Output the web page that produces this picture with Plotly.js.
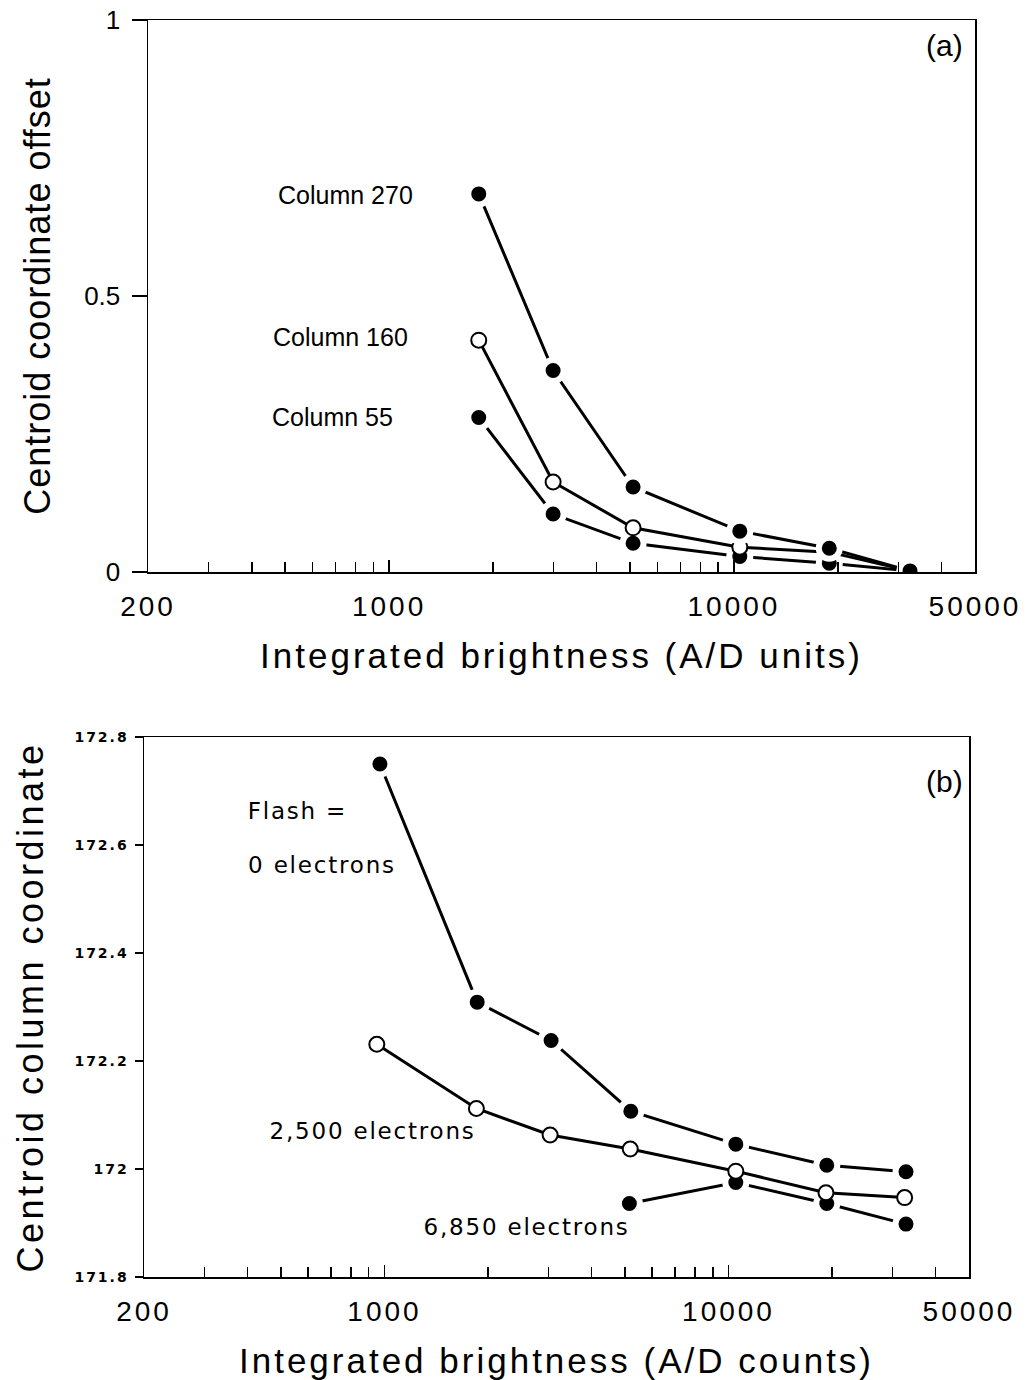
<!DOCTYPE html>
<html>
<head>
<meta charset="utf-8">
<script src="https://cdn.plot.ly/plotly-3.0.1.min.js"></script>
<style>
html,body{margin:0;padding:0;background:#fff;}
.xtick text, .x2tick text {letter-spacing: 3px;}
.y2tick text {letter-spacing: 2px;}
.xtitle, .x2title {letter-spacing: 3px;}
.ytitle {letter-spacing: 1px;}
.y2title {letter-spacing: 3.5px;}
.annotation[data-index="4"] text, .annotation[data-index="5"] text,
.annotation[data-index="6"] text, .annotation[data-index="7"] text {letter-spacing: 1.8px;}
</style>
</head>
<body>
<div id="chart" style="width:1027px;height:1380px;"></div>
<script>
// Panel (a): centroid coordinate offset vs integrated brightness
const brightA = [1820, 2990, 5100, 10400, 18900, 32400];
const col270 = [0.685, 0.365, 0.154, 0.074, 0.043, 0.002];
const col160 = [0.420, 0.163, 0.080, 0.045, 0.036, 0.002];
const col55  = [0.280, 0.105, 0.052, 0.028, 0.016, 0.002];

// Panel (b): centroid column coordinate vs integrated brightness
const brightB0 = [970, 1860, 3050, 5200, 10500, 19300, 32800];
const flash0    = [172.750, 172.309, 172.238, 172.107, 172.046, 172.007, 171.995];
const brightB1 = [950, 1850, 3030, 5180, 10500, 19200, 32500];
const flash2500 = [172.231, 172.112, 172.063, 172.037, 171.996, 171.956, 171.947];
const brightB2 = [5150, 10500, 19300, 32800];
const flash6850 = [171.936, 171.975, 171.936, 171.898];

const xTickVals = [200, 1000, 10000, 50000];
const xTickText = ['200', '1000', '10000', '50000'];
const xMinor = [300,400,500,600,700,800,900,2000,3000,4000,5000,6000,7000,8000,9000,20000,30000,40000];
const yTicksA = [0, 0.5, 1];
const yTickTextA = ['0', '0.5', '1'];
const yTicksB = [171.8, 172, 172.2, 172.4, 172.6, 172.8];
const yTickTextB = ['171.8', '172', '172.2', '172.4', '172.6', '172.8'];

const filled = {symbol: 'circle', size: 21, color: '#000', line: {color: '#fff', width: 6}};
const open = {symbol: 'circle', size: 15, color: '#fff', line: {color: '#000', width: 2}};
const ln = {color: '#000', width: 3};

const traces = [
  {x: brightA, y: col55, xaxis: 'x', yaxis: 'y', mode: 'lines+markers', line: ln, marker: filled},
  {x: brightA, y: col160, xaxis: 'x', yaxis: 'y', mode: 'lines+markers', line: ln, marker: open},
  {x: brightA, y: col270, xaxis: 'x', yaxis: 'y', mode: 'lines+markers', line: ln, marker: filled},
  {x: brightB2, y: flash6850, xaxis: 'x2', yaxis: 'y2', mode: 'lines+markers', line: ln, marker: filled},
  {x: brightB0, y: flash0, xaxis: 'x2', yaxis: 'y2', mode: 'lines+markers', line: ln, marker: filled},
  {x: brightB1, y: flash2500, xaxis: 'x2', yaxis: 'y2', mode: 'lines+markers', line: ln, marker: open}
];

const W = 1027, H = 1380;
const LIB = 'Liberation Sans, Arial, sans-serif';
const DJV = 'DejaVu Sans, sans-serif';
const axisFont = {family: LIB, size: 28, color: '#000'};

function xAxis(domain, anchor, text, standoff) {
  return {
    type: 'log', range: [Math.log10(200), Math.log10(50000)], domain: domain, anchor: anchor,
    tickmode: 'array', tickvals: xTickVals, ticktext: xTickText,
    ticks: 'inside', ticklen: 12, tickwidth: 1.5, tickcolor: '#000',
    minor: {tickmode: 'array', tickvals: xMinor, ticks: 'inside', ticklen: 10, tickwidth: 1.5, tickcolor: '#000', showgrid: false},
    showline: true, linecolor: '#000', linewidth: 1.5, mirror: true,
    showgrid: false, zeroline: false, tickfont: axisFont, ticklabelstandoff: 9,
    title: {text: text, font: {family: LIB, size: 35, color: '#000'}, standoff: standoff}
  };
}

function note(text, px, py, family, size) {
  return {text: text, xref: 'paper', yref: 'paper', x: px / W, y: 1 - py / H,
          xanchor: 'center', yanchor: 'middle', showarrow: false,
          font: {family: family, size: size, color: '#000'}};
}

const layout = {
  width: W, height: H,
  margin: {l: 0, r: 0, t: 0, b: 0},
  paper_bgcolor: '#fff', plot_bgcolor: '#fff',
  showlegend: false,
  xaxis: xAxis([148/W, 975/W], 'y', 'Integrated brightness (A/D units)', 22),
  yaxis: {
    range: [0, 1], domain: [1 - 572/H, 1 - 20/H], anchor: 'x',
    tickmode: 'array', tickvals: yTicksA, ticktext: yTickTextA,
    ticks: 'outside', ticklen: 15, tickwidth: 1.5, tickcolor: '#000',
    showline: true, linecolor: '#000', linewidth: 1.5, mirror: true,
    showgrid: false, zeroline: false, tickfont: {family: LIB, size: 26, color: '#000'}, ticklabelstandoff: 6,
    title: {text: 'Centroid coordinate offset\u00a0\u00a0\u00a0\u00a0\u00a0', font: {family: LIB, size: 36, color: '#000'}, standoff: 22}
  },
  xaxis2: xAxis([144/W, 969/W], 'y2', 'Integrated brightness (A/D counts)', 22),
  yaxis2: {
    range: [171.8, 172.8], domain: [1 - 1277/H, 1 - 737/H], anchor: 'x2',
    tickmode: 'array', tickvals: yTicksB, ticktext: yTickTextB,
    ticks: 'outside', ticklen: 8, tickwidth: 1.5, tickcolor: '#000',
    showline: true, linecolor: '#000', linewidth: 1.5, mirror: true,
    showgrid: false, zeroline: false, ticklabelstandoff: 3,
    tickfont: {family: DJV, size: 14, color: '#000', weight: 'bold'},
    title: {text: 'Centroid column coordinate', font: {family: LIB, size: 36, color: '#000'}, standoff: 20}
  },
  annotations: [
    note('Column 270', 345, 195, LIB, 25),
    note('Column 160', 340, 337, LIB, 25),
    note('Column 55', 332, 417, LIB, 25),
    note('(a)', 944, 46, LIB, 30),
    note('Flash =', 297, 811, DJV, 23),
    note('0 electrons', 322, 865, DJV, 23),
    note('2,500 electrons', 372, 1131, DJV, 23),
    note('6,850 electrons', 526, 1227, DJV, 23),
    note('(b)', 944, 781, LIB, 30)
  ]
};

Plotly.newPlot('chart', traces, layout, {displayModeBar: false, staticPlot: true});
</script>
</body>
</html>
